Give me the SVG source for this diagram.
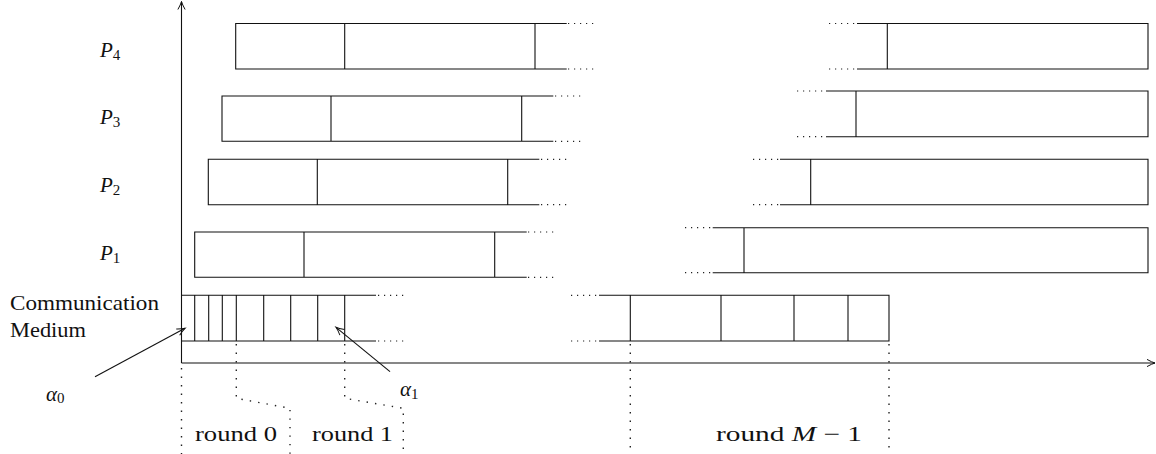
<svg xmlns="http://www.w3.org/2000/svg" width="1156" height="454" viewBox="0 0 1156 454">
<defs>
<marker id="ah" markerUnits="userSpaceOnUse" markerWidth="12" markerHeight="12" refX="0" refY="0" viewBox="-10 -6 12 12" orient="auto" overflow="visible">
<path d="M-8,-3.6 Q-3,-0.8 0,0 Q-3,0.8 -8,3.6" fill="none" stroke="#111" stroke-width="1"/>
</marker>
</defs>
<style>
.ln{fill:none;stroke:#111;stroke-width:1.1}
.dh{fill:none;stroke:#222;stroke-width:1.2;stroke-dasharray:1.2 4.8}
.dv{fill:none;stroke:#222;stroke-width:1.4;stroke-dasharray:1.4 7.1}
text{font-size:21px;fill:#111}
.i{font-style:italic}
.s{font-size:15px;font-style:normal}
</style>
<rect width="1156" height="454" fill="#fff"/>

<g id="labels" font-family="'Liberation Serif', 'Times New Roman', serif">
<text class="i" x="100" y="57">P<tspan class="s" dy="3">4</tspan></text>
<text class="i" x="100" y="123.5">P<tspan class="s" dy="3">3</tspan></text>
<text class="i" x="100" y="192">P<tspan class="s" dy="3">2</tspan></text>
<text class="i" x="100" y="259.5">P<tspan class="s" dy="3">1</tspan></text>
<text x="10" y="309.5" font-size="22" textLength="149" lengthAdjust="spacingAndGlyphs">Communication</text>
<text x="10" y="337" font-size="22" textLength="76" lengthAdjust="spacingAndGlyphs">Medium</text>
<text class="i" x="46" y="400.5">α<tspan class="s" dy="2.5">0</tspan></text>
<text class="i" x="400" y="396">α<tspan class="s" dy="2.5">1</tspan></text>
<text x="195" y="441" font-size="22" textLength="82" lengthAdjust="spacingAndGlyphs">round 0</text>
<text x="312" y="441" font-size="22" textLength="81" lengthAdjust="spacingAndGlyphs">round 1</text>
<text x="716" y="441" font-size="22" textLength="146" lengthAdjust="spacingAndGlyphs">round <tspan class="i">M</tspan> − 1</text>
</g>

<g id="P4">
<path class="ln" d="M566.7,23.5 H235.7 V69 H566.7 M344.7,23.5 V69 M535,23.5 V69"/>
<path class="dh" d="M568,23.5 H595 M568,69 H595"/>
<path class="dh" d="M829,23.5 H857 M829,69 H857"/>
<path class="ln" d="M857,23.5 H1148 V69 H857 M887.3,23.5 V69"/>
</g>

<g id="P3">
<path class="ln" d="M553.3,96 H222 V141.3 H553.3 M331,96 V141.3 M521.7,96 V141.3"/>
<path class="dh" d="M555,96 H582 M555,141.3 H582"/>
<path class="dh" d="M797,91 H826 M797,136.7 H826"/>
<path class="ln" d="M826,91 H1148 V136.7 H826 M856,91 V136.7"/>
</g>

<g id="P2">
<path class="ln" d="M539.3,159.3 H208.3 V204.7 H539.3 M317.3,159.3 V204.7 M507.7,159.3 V204.7"/>
<path class="dh" d="M541,159.3 H567 M541,204.7 H567"/>
<path class="dh" d="M753,159.3 H780 M753,204.7 H780"/>
<path class="ln" d="M780,159.3 H1148 V204.7 H780 M810.7,159.3 V204.7"/>
</g>

<g id="P1">
<path class="ln" d="M526.7,232 H194.7 V277.3 H526.7 M304,232 V277.3 M494.7,232 V277.3"/>
<path class="dh" d="M528,232 H554 M528,277.3 H554"/>
<path class="dh" d="M685,227.7 H712.7 M685,272.7 H712.7"/>
<path class="ln" d="M712.7,227.7 H1148 V272.7 H712.7 M744,227.7 V272.7"/>
</g>

<g id="medium">
<path class="ln" d="M181.5,295.3 H376 M181.5,341 H376 M194.7,295.3 V341 M208.7,295.3 V341 M222.3,295.3 V341 M236.3,295.3 V341 M263.7,295.3 V341 M290.7,295.3 V341 M317.7,295.3 V341 M344.7,295.3 V341"/>
<path class="dh" d="M378,295.3 H405 M378,341 H405"/>
<path class="dh" d="M571,295.3 H599 M571,341 H599"/>
<path class="ln" d="M599,295.3 H889 V341 H599 M630.3,295.3 V341 M721,295.3 V341 M794,295.3 V341 M848,295.3 V341"/>
</g>

<g id="round-markers">
<path class="dv" d="M181.5,368 V454"/>
<path class="dv" d="M236.3,344 V398.3 L290,408.3 V454"/>
<path class="dv" d="M344.7,344 V398.3 L403.3,408.3 V454"/>
<path class="dv" d="M630.3,344 V454"/>
<path class="dv" d="M889,344 V454"/>
</g>

<g id="connectors">
<path class="ln" d="M181.5,363 V1.5" marker-end="url(#ah)"/>
<path class="ln" d="M181.5,363 H1155" marker-end="url(#ah)"/>
<path class="ln" d="M95,376.7 L185,328.3" marker-end="url(#ah)"/>
<path class="ln" d="M390,371.7 L336,327.3" marker-end="url(#ah)"/>
</g>
</svg>
